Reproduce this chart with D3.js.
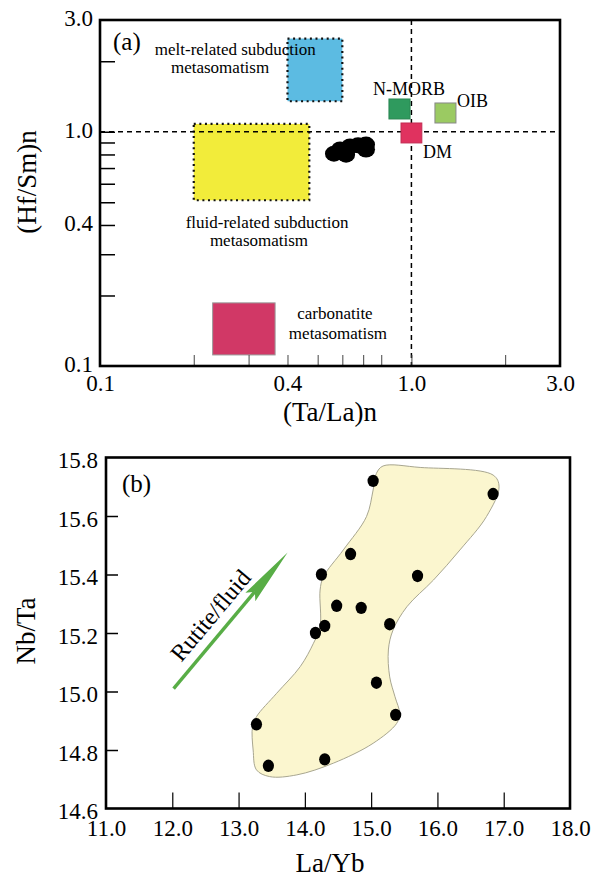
<!DOCTYPE html>
<html>
<head>
<meta charset="utf-8">
<script src="https://cdn.jsdelivr.net/npm/d3@7"></script>
<style>
	body { margin: 0; background: #fff; }
	svg text { font-family: "Liberation Serif", "Times New Roman", serif; fill: #000; }
</style>
</head>
<body>
<div id="content"></div>
<script>

// ---- panel (a): (Ta/La)n vs (Hf/Sm)n, both log ----
var aXTickVals = [0.2, 0.3, 0.4, 0.5, 0.6, 0.7, 0.8, 1.0, 2.0];
var aXLabelVals = [0.1, 0.4, 1.0, 3.0];
var aYTickVals = [2.0, 1.0, 0.9, 0.8, 0.7, 0.6, 0.5, 0.4, 0.3, 0.2];
var aYLabelVals = [3.0, 1.0, 0.4, 0.1];

// source fields (Ta/La range, Hf/Sm range)
var fieldNames = ["melt", "fluid", "carbonatite"];
var fieldTaLa = [[0.4, 0.6], [0.2, 0.47], [0.23, 0.365]];
var fieldHfSm = [[1.35, 2.5], [0.51, 1.08], [0.1115, 0.186]];

// reference reservoirs
var refNames = ["N-MORB", "DM", "OIB"];
var refTaLa = [[0.847, 0.99], [0.926, 1.08], [1.19, 1.39]];
var refHfSm = [[1.134, 1.38], [0.896, 1.09], [1.09, 1.327]];

// samples
var sampleTaLa = [0.564, 0.617, 0.635, 0.674, 0.715, 0.715, 0.59];
var sampleHfSm = [0.806, 0.798, 0.866, 0.875, 0.882, 0.84, 0.84];

// field text (x, y are data values where each line sits)
var fieldText = [
	["melt-related subduction", 0.272, 2.13],
	["metasomatism", 0.243, 1.78],
	["fluid-related subduction", 0.344, 0.389],
	["metasomatism", 0.324, 0.325],
	["carbonatite", 0.568, 0.1588],
	["metasomatism", 0.581, 0.1305]
];
var refText = [
	["N-MORB", 0.753, 1.435],
	["OIB", 1.40, 1.277],
	["DM", 1.089, 0.773]
];

// ---- panel (b): La/Yb vs Nb/Ta ----
var bXTickVals = [12, 13, 14, 15, 16, 17];
var bXLabelVals = [11, 12, 13, 14, 15, 16, 17, 18];
var bYTickVals = [14.8, 15.0, 15.2, 15.4, 15.6];
var bYLabelVals = [14.6, 14.8, 15.0, 15.2, 15.4, 15.6, 15.8];

var laYb = [15.03, 16.84, 14.69, 14.25, 15.70, 14.48, 14.85, 14.30, 14.16, 15.28, 15.08, 15.37, 13.27, 14.30, 13.45];
var nbTa = [15.72, 15.675, 15.47, 15.40, 15.395, 15.293, 15.286, 15.224, 15.20, 15.23, 15.03, 14.92, 14.888, 14.768, 14.746];

// outline of the sample field
var envLaYb = [15.18, 15.74, 16.84, 16.93, 16.74, 16.34, 15.94, 15.54, 15.33, 15.26, 15.28, 15.36, 15.43, 15.385, 15.03, 14.43, 13.88, 13.47, 13.27, 13.22, 13.21, 13.27, 13.575, 13.93, 14.13, 14.23, 14.23, 14.28, 14.58, 14.93, 15.03, 15.08];
var envNbTa = [15.771, 15.766, 15.74, 15.70, 15.598, 15.484, 15.381, 15.29, 15.21, 15.142, 15.05, 14.982, 14.925, 14.891, 14.823, 14.755, 14.715, 14.709, 14.732, 14.80, 14.88, 14.914, 14.994, 15.085, 15.165, 15.222, 15.347, 15.392, 15.484, 15.598, 15.689, 15.746];

// arrow (start, tip)
var arrowLaYb = [12.02, 13.74];
var arrowNbTa = [15.01, 15.475];

var fieldColors = { melt: "#5cbbe2", fluid: "#f2ec3a", carbonatite: "#d13866" };
var refColors = { "N-MORB": "#2f9a5e", "DM": "#e0325f", "OIB": "#9bca62" };

function main() {
	var svg = d3.select("#content")
		.append("svg")
		.attr("width", 607)
		.attr("height", 879)
		.attr("font-family", "Liberation Serif, serif");

	svg.append("rect").attr("width", 607).attr("height", 879).attr("fill", "#fff");

	drawPanelA(svg);
	drawPanelB(svg);
}

function styleAxis(g, size) {
	g.attr("font-family", null);
	g.select(".domain").remove();
	g.selectAll("line").attr("stroke", "#000").attr("stroke-width", 1.5);
	g.selectAll("text").attr("font-size", size).attr("fill", "#000");
}

function drawPanelA(svg) {
	var x = d3.scaleLog().domain([0.1, 3]).range([100, 560]);
	var y = d3.scaleLog().domain([0.1, 3]).range([366, 20]);
	var fmt = d3.format(".1f");
	var g = svg.append("g");

	// fields
	fieldNames.forEach(function (name, i) {
		var r = g.append("rect")
			.attr("x", x(fieldTaLa[i][0]))
			.attr("y", y(fieldHfSm[i][1]))
			.attr("width", x(fieldTaLa[i][1]) - x(fieldTaLa[i][0]))
			.attr("height", y(fieldHfSm[i][0]) - y(fieldHfSm[i][1]))
			.attr("fill", fieldColors[name]);
		if (name == "carbonatite") {
			r.attr("stroke", "#999").attr("stroke-width", 1);
		} else {
			r.attr("stroke", "#111").attr("stroke-width", 2.2).attr("stroke-dasharray", "2 3.6");
		}
	});

	// dashed reference lines at 1.0
	g.append("line")
		.attr("x1", x(0.1)).attr("x2", x(3))
		.attr("y1", y(1)).attr("y2", y(1))
		.attr("stroke", "#000").attr("stroke-width", 1.5).attr("stroke-dasharray", "5 4");
	g.append("line")
		.attr("x1", x(1)).attr("x2", x(1))
		.attr("y1", y(3)).attr("y2", y(0.1))
		.attr("stroke", "#000").attr("stroke-width", 1.5).attr("stroke-dasharray", "5 4");

	// reservoirs
	refNames.forEach(function (name, i) {
		g.append("rect")
			.attr("x", x(refTaLa[i][0]))
			.attr("y", y(refHfSm[i][1]))
			.attr("width", x(refTaLa[i][1]) - x(refTaLa[i][0]))
			.attr("height", y(refHfSm[i][0]) - y(refHfSm[i][1]))
			.attr("fill", refColors[name])
			.attr("stroke", name == "OIB" ? "#888" : d3.color(refColors[name]).darker(0.4))
			.attr("stroke-width", 1);
	});

	// samples (overlapping black dots)
	g.selectAll(".sample")
		.data(sampleTaLa)
		.enter()
		.append("ellipse")
		.attr("cx", function (d) { return x(d); })
		.attr("cy", function (d, i) { return y(sampleHfSm[i]); })
		.attr("rx", 9)
		.attr("ry", 8)
		.attr("fill", "#000");

	// texts
	g.selectAll(".ftext")
		.data(fieldText)
		.enter()
		.append("text")
		.attr("x", function (d) { return x(d[1]); })
		.attr("y", function (d) { return y(d[2]); })
		.attr("text-anchor", "middle")
		.attr("font-size", 17)
		.text(function (d) { return d[0]; });

	g.selectAll(".rtext")
		.data(refText)
		.enter()
		.append("text")
		.attr("x", function (d) { return x(d[1]); })
		.attr("y", function (d) { return y(d[2]); })
		.attr("font-size", 18)
		.text(function (d) { return d[0]; });

	// inward ticks
	var ty = g.append("g").attr("transform", "translate(100,0)")
		.call(d3.axisLeft(y).tickValues(aYTickVals).tickSize(-15).tickFormat(""));
	styleAxis(ty, 23);
	var tx = g.append("g").attr("transform", "translate(0,366)")
		.call(d3.axisBottom(x).tickValues(aXTickVals).tickSize(-11).tickFormat(""));
	styleAxis(tx, 23);
	tx.selectAll("line").attr("stroke-width", 1).attr("stroke", "#444");

	// tick labels
	var ly = g.append("g").attr("transform", "translate(100,-2)")
		.call(d3.axisLeft(y).tickValues(aYLabelVals).tickSize(0).tickPadding(7).tickFormat(fmt));
	styleAxis(ly, 23);
	var lx = g.append("g").attr("transform", "translate(0,366)")
		.call(d3.axisBottom(x).tickValues(aXLabelVals).tickSize(0).tickPadding(9).tickFormat(fmt));
	styleAxis(lx, 23);

	// frame
	g.append("rect")
		.attr("x", 100).attr("y", 20)
		.attr("width", 460).attr("height", 346)
		.attr("fill", "none").attr("stroke", "#000").attr("stroke-width", 2.6);

	g.append("text").attr("x", 113).attr("y", 50).attr("font-size", 25).text("(a)");

	// axis titles
	g.append("text")
		.attr("x", 330).attr("y", 421)
		.attr("text-anchor", "middle")
		.attr("font-size", 27)
		.text("(Ta/La)n");
	g.append("text")
		.attr("transform", "translate(36,182) rotate(-90)")
		.attr("text-anchor", "middle")
		.attr("font-size", 27)
		.text("(Hf/Sm)n");
}

function drawPanelB(svg) {
	var x = d3.scaleLinear().domain([11, 18]).range([106, 570]);
	var y = d3.scaleLinear().domain([14.6, 15.8]).range([808.5, 457.5]);
	var fmt = d3.format(".1f");
	var g = svg.append("g");

	// sample field outline
	var env = envLaYb.map(function (d, i) { return [x(d), y(envNbTa[i])]; });
	g.append("path")
		.attr("d", d3.line().curve(d3.curveCatmullRomClosed.alpha(0.5))(env))
		.attr("fill", "#fbf6cf")
		.attr("stroke", "#a8a690")
		.attr("stroke-width", 1);

	// points
	g.selectAll(".pt")
		.data(laYb)
		.enter()
		.append("ellipse")
		.attr("cx", function (d) { return x(d); })
		.attr("cy", function (d, i) { return y(nbTa[i]); })
		.attr("rx", 5.6)
		.attr("ry", 6.2)
		.attr("fill", "#000");

	// rutile/fluid arrow
	var x0 = x(arrowLaYb[0]), y0 = y(arrowNbTa[0]);
	var x1 = x(arrowLaYb[1]), y1 = y(arrowNbTa[1]);
	var len = Math.hypot(x1 - x0, y1 - y0);
	var ux = (x1 - x0) / len, uy = (y1 - y0) / len;
	var nx = -uy, ny = ux;
	var headLen = 58, headW = 6.5, notch = 7;
	var bx = x1 - ux * headLen, by = y1 - uy * headLen;
	g.append("line")
		.attr("x1", x0).attr("y1", y0)
		.attr("x2", bx + ux * notch).attr("y2", by + uy * notch)
		.attr("stroke", "#58ad46").attr("stroke-width", 3.4);
	g.append("path")
		.attr("d", "M" + x1 + "," + y1 +
			"L" + (bx + nx * headW) + "," + (by + ny * headW) +
			"L" + (bx + ux * notch) + "," + (by + uy * notch) +
			"L" + (bx - nx * headW) + "," + (by - ny * headW) + "Z")
		.attr("fill", "#58ad46");

	var ang = Math.atan2(y1 - y0, x1 - x0) * 180 / Math.PI;
	g.append("text")
		.attr("transform", "translate(" + x(12.67) + "," + y(15.242) + ") rotate(" + ang + ")")
		.attr("text-anchor", "middle")
		.attr("font-size", 24)
		.text("Rutite/fluid");

	// inward ticks
	var ty = g.append("g").attr("transform", "translate(106,0)")
		.call(d3.axisLeft(y).tickValues(bYTickVals).tickSize(-12).tickFormat(""));
	styleAxis(ty, 23);
	var tx = g.append("g").attr("transform", "translate(0,808.5)")
		.call(d3.axisBottom(x).tickValues(bXTickVals).tickSize(-16).tickFormat(""));
	styleAxis(tx, 23);
	tx.selectAll("line").attr("stroke-width", 1.2);

	// tick labels
	var ly = g.append("g").attr("transform", "translate(106,3)")
		.call(d3.axisLeft(y).tickValues(bYLabelVals).tickSize(0).tickPadding(8).tickFormat(fmt));
	styleAxis(ly, 23);
	var lx = g.append("g").attr("transform", "translate(0,808.5)")
		.call(d3.axisBottom(x).tickValues(bXLabelVals).tickSize(0).tickPadding(11).tickFormat(fmt));
	styleAxis(lx, 23);

	// frame
	g.append("rect")
		.attr("x", 106).attr("y", 457.5)
		.attr("width", 464).attr("height", 351)
		.attr("fill", "none").attr("stroke", "#000").attr("stroke-width", 2.6);

	g.append("text").attr("x", 122).attr("y", 492).attr("font-size", 25).text("(b)");

	g.append("text")
		.attr("x", 330).attr("y", 872)
		.attr("text-anchor", "middle")
		.attr("font-size", 27)
		.text("La/Yb");
	g.append("text")
		.attr("transform", "translate(35,631) rotate(-90)")
		.attr("text-anchor", "middle")
		.attr("font-size", 27)
		.text("Nb/Ta");
}

(() => {
	main();
})()
</script>
</body>
</html>
